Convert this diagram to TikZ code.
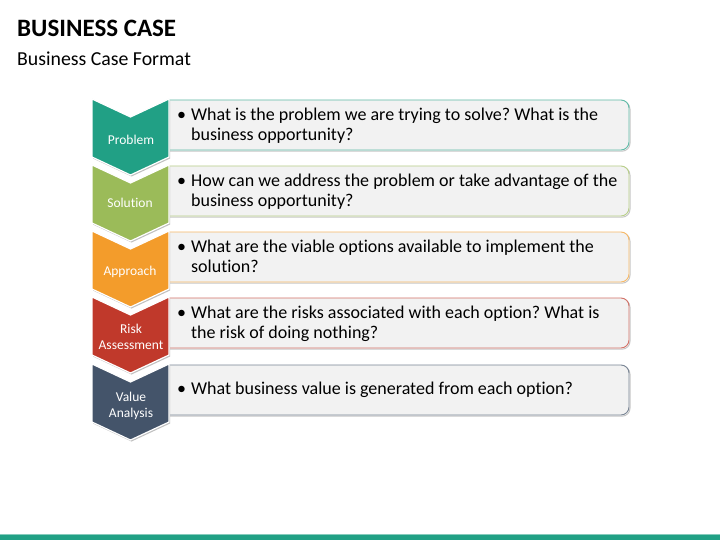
\documentclass[tikz,border=0pt]{standalone}
\usepackage{fontspec}
\setmainfont{Carlito}[Ligatures={NoCommon,NoContextual},RawFeature={-liga;-clig;-dlig}]
\definecolor{cA}{HTML}{21A085}
\definecolor{cB}{HTML}{9BBB59}
\definecolor{cC}{HTML}{F39C2B}
\definecolor{cD}{HTML}{C0392B}
\definecolor{cE}{HTML}{44546A}
\definecolor{boxfill}{HTML}{F2F2F2}
\tikzset{
  chev/.style={line width=1.2pt, draw=white},
  infobox/.style={fill=boxfill, line width=0.9pt, rounded corners=8pt},
  boxshadow/.style={draw=black!22, line width=1pt, rounded corners=8pt},
  lbl/.style={text=white, font=\fontsize{13.5}{16.5}\selectfont, align=center},
  btxt/.style={anchor=west, inner sep=0pt, font=\fontsize{18}{19.5}\selectfont}
}
\begin{document}
\frenchspacing
\begin{tikzpicture}[x=1pt,y=-1pt]
\useasboundingbox (0,0) rectangle (720,540);
\fill[white] (0,0) rectangle (720,540);
% title
\node[anchor=base west, inner sep=0pt, font=\fontsize{25}{28}\selectfont\bfseries] (title) at (17,37) {BUSINESS CASE};
\node[anchor=base west, inner sep=0pt, font=\fontsize{19.8}{22}\selectfont] (subtitle) at (17,66) {Business Case Format};
% boxes
\foreach \y/\c in {100/cA,166/cB,232/cC,298/cD,365/cE}{
  \draw[boxshadow] (168,\y+1.2) -- (630,\y+1.2) -- (630,\y+51.2) -- (168,\y+51.2);
  \filldraw[infobox, draw=\c!72!white] (168,\y) -- (629,\y) -- (629,\y+50) -- (168,\y+50);
}
% chevrons
\foreach \y/\c in {99/cA,165/cB,231/cC,297/cD,364/cE}{
  \fill[black!25] (93,\y+1.5) -- (131.5,\y+19.5) -- (170,\y+1.5) -- (170,\y+59.5) -- (131.5,\y+77.5) -- (93,\y+59.5) -- cycle;
  \filldraw[chev, fill=\c] (92,\y) -- (130.5,\y+18) -- (169,\y) -- (169,\y+58) -- (130.5,\y+76) -- (92,\y+58) -- cycle;
}
% labels
\node[lbl] (l1) at (131,139.5) {Problem};
\node[lbl] (l2) at (130,202.5) {Solution};
\node[lbl] (l3) at (130,271.5) {Approach};
\node[lbl] (l4) at (131,337) {Risk\\[0pt]Assessment};
\node[lbl] (l5) at (131,406) {Value\\[0pt]Analysis};
% texts
\node[btxt] (t1) at (177,126.5) {\begin{tabular}{@{}l@{\hspace{5pt}}l@{}}\textbullet & What is the problem we are trying to solve? What is the\\[1pt] & business opportunity?\end{tabular}};
\node[btxt] (t2) at (177,192.5) {\begin{tabular}{@{}l@{\hspace{5pt}}l@{}}\textbullet & How can we address the problem or take advantage of the\\[1pt] & business opportunity?\end{tabular}};
\node[btxt] (t3) at (177,258.5) {\begin{tabular}{@{}l@{\hspace{5pt}}l@{}}\textbullet & What are the viable options available to implement the\\[1pt] & solution?\end{tabular}};
\node[btxt] (t4) at (177,324.5) {\begin{tabular}{@{}l@{\hspace{5pt}}l@{}}\textbullet & What are the risks associated with each option? What is\\[1pt] & the risk of doing nothing?\end{tabular}};
\node[btxt] (t5) at (177,391) {\begin{tabular}{@{}l@{\hspace{5pt}}l@{}}\textbullet & What business value is generated from each option?\end{tabular}};
% bottom bar
\fill[cA!55!white] (0,533.5) rectangle (720,535);
\fill[cA] (0,535) rectangle (720,540);
\end{tikzpicture}
\end{document}
